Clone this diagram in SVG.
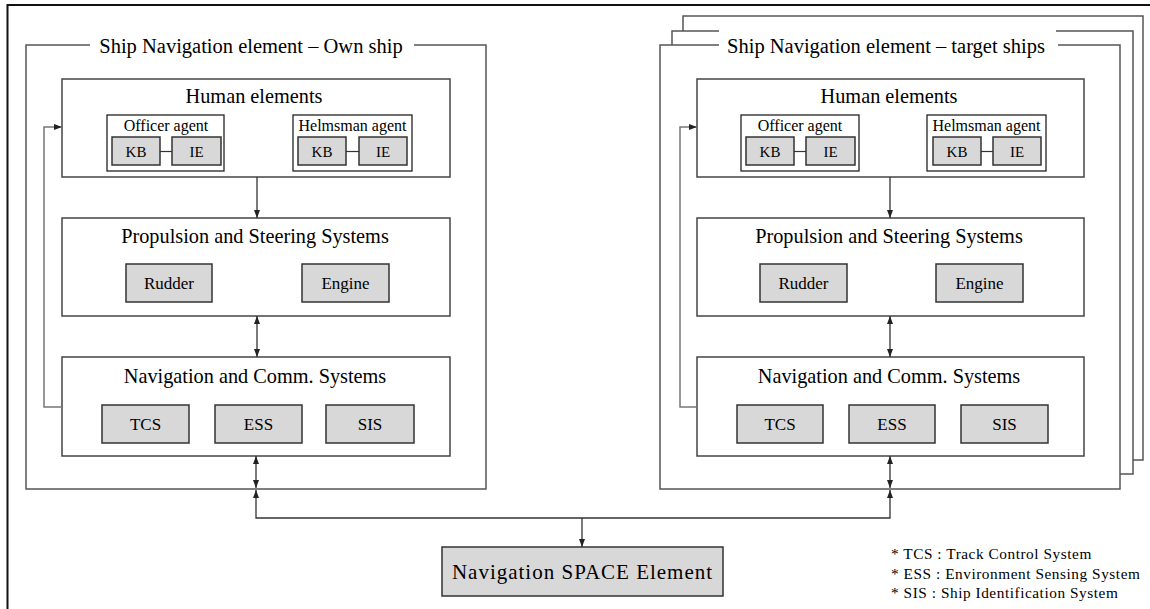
<svg xmlns="http://www.w3.org/2000/svg" width="1150" height="609" viewBox="0 0 1150 609">
  <style>
    text { font-family: "Liberation Serif", "Times New Roman", serif; fill: #000; }
    .frame { fill: none; stroke: #555; stroke-width: 1.5; }
    .panel { fill: #fff; stroke: #444; stroke-width: 1.5; }
    .agent { fill: #fff; stroke: #222; stroke-width: 1.3; }
    .unit { fill: #d8d8d8; stroke: #333; stroke-width: 1.5; }
    .title { font-size: 20.5px; text-anchor: middle; }
    .head { font-size: 20.3px; text-anchor: middle; }
    .sub { font-size: 16px; text-anchor: middle; }
    .small { font-size: 15px; text-anchor: middle; }
    .label { font-size: 17px; text-anchor: middle; }
    .link { fill: none; stroke: #333; stroke-width: 1.3; }
    .loop { fill: none; stroke: #777; stroke-width: 1.5; }
    .legend { font-size: 15.3px; letter-spacing: 0.55px; }
  </style>
  <defs>
    <marker id="ah" viewBox="0 0 8 6" refX="8" refY="3" markerWidth="8" markerHeight="6" markerUnits="userSpaceOnUse" orient="auto-start-reverse">
      <path d="M0,0 L8,3 L0,6 Z" fill="#222"/>
    </marker>
  </defs>

  <rect width="1150" height="609" fill="#fff"/>
  <!-- page border (top and left edges) -->
  <path d="M7.5,609 V5 H1150" fill="none" stroke="#111" stroke-width="2"/>

  <!-- own ship frame -->
  <g id="own-ship">
    <path class="frame" d="M90,45 H26 V489 H486 V45 H414"/>
    <text class="title" x="251" y="53">Ship Navigation element – Own ship</text>

    <g id="own-human">
      <rect class="panel" x="62" y="79" width="388" height="98"/>
      <text class="head" x="254" y="103">Human elements</text>
      <g id="own-officer">
        <rect class="agent" x="107" y="115" width="117" height="56"/>
        <text class="sub" x="166" y="131">Officer agent</text>
        <rect class="unit" x="112" y="137" width="48" height="28"/>
        <rect class="unit" x="172" y="137" width="49" height="28"/>
        <line x1="160" y1="151.5" x2="172" y2="151.5" stroke="#333" stroke-width="1.2"/>
        <text class="small" x="136" y="157">KB</text>
        <text class="small" x="196.5" y="157">IE</text>
      </g>
      <g id="own-helmsman">
        <rect class="agent" x="293" y="115" width="119" height="56"/>
        <text class="sub" x="352.5" y="131">Helmsman agent</text>
        <rect class="unit" x="298" y="137" width="48" height="28"/>
        <rect class="unit" x="359" y="137" width="48" height="28"/>
        <line x1="346" y1="151.5" x2="359" y2="151.5" stroke="#333" stroke-width="1.2"/>
        <text class="small" x="322" y="157">KB</text>
        <text class="small" x="383" y="157">IE</text>
      </g>
    </g>

    <g id="own-propulsion">
      <rect class="panel" x="62" y="218" width="388" height="98"/>
      <text class="head" x="255" y="243">Propulsion and Steering Systems</text>
      <rect class="unit" x="126" y="264" width="86" height="38"/>
      <text class="label" x="169" y="289">Rudder</text>
      <rect class="unit" x="302" y="264" width="87" height="38"/>
      <text class="label" x="345.5" y="289">Engine</text>
    </g>

    <g id="own-navcomm">
      <rect class="panel" x="62" y="357" width="388" height="99"/>
      <text class="head" x="255" y="383">Navigation and Comm. Systems</text>
      <rect class="unit" x="102" y="405" width="87" height="38"/>
      <text class="label" x="145.5" y="430">TCS</text>
      <rect class="unit" x="215" y="405" width="87" height="38"/>
      <text class="label" x="258.5" y="430">ESS</text>
      <rect class="unit" x="326" y="405" width="88" height="38"/>
      <text class="label" x="370" y="430">SIS</text>
    </g>
  </g>

  <!-- target ships frame (stacked copies) -->
  <g id="target-ships">
    <path class="frame" d="M683,31 V16 H1143 V460 H1133"/>
    <path class="frame" d="M672,45 V31 H719 M1056,31 H1133 V474 H1120"/>
    <path class="frame" d="M719,45 H660 V489 H1120 V45 H1058"/>
    <text class="title" x="886" y="53">Ship Navigation element – target ships</text>

    <g id="target-human">
      <rect class="panel" x="697" y="79" width="387" height="98"/>
      <text class="head" x="889" y="103">Human elements</text>
      <g id="target-officer">
        <rect class="agent" x="741" y="115" width="118" height="56"/>
        <text class="sub" x="800" y="131">Officer agent</text>
        <rect class="unit" x="746" y="137" width="48" height="28"/>
        <rect class="unit" x="806" y="137" width="49" height="28"/>
        <line x1="794" y1="151.5" x2="806" y2="151.5" stroke="#333" stroke-width="1.2"/>
        <text class="small" x="770" y="157">KB</text>
        <text class="small" x="830.5" y="157">IE</text>
      </g>
      <g id="target-helmsman">
        <rect class="agent" x="927" y="115" width="119" height="56"/>
        <text class="sub" x="986.5" y="131">Helmsman agent</text>
        <rect class="unit" x="933" y="137" width="48" height="28"/>
        <rect class="unit" x="993" y="137" width="48" height="28"/>
        <line x1="981" y1="151.5" x2="993" y2="151.5" stroke="#333" stroke-width="1.2"/>
        <text class="small" x="957" y="157">KB</text>
        <text class="small" x="1017" y="157">IE</text>
      </g>
    </g>

    <g id="target-propulsion">
      <rect class="panel" x="697" y="218" width="387" height="98"/>
      <text class="head" x="889" y="243">Propulsion and Steering Systems</text>
      <rect class="unit" x="760" y="264" width="87" height="38"/>
      <text class="label" x="803.5" y="289">Rudder</text>
      <rect class="unit" x="936" y="264" width="87" height="38"/>
      <text class="label" x="979.5" y="289">Engine</text>
    </g>

    <g id="target-navcomm">
      <rect class="panel" x="697" y="357" width="387" height="99"/>
      <text class="head" x="889" y="383">Navigation and Comm. Systems</text>
      <rect class="unit" x="737" y="405" width="86" height="38"/>
      <text class="label" x="780" y="430">TCS</text>
      <rect class="unit" x="849" y="405" width="86" height="38"/>
      <text class="label" x="892" y="430">ESS</text>
      <rect class="unit" x="961" y="405" width="87" height="38"/>
      <text class="label" x="1004.5" y="430">SIS</text>
    </g>
  </g>

  <g id="space-element">
    <rect class="unit" x="442" y="547" width="281" height="49"/>
    <text x="582.5" y="579" font-size="21" text-anchor="middle" letter-spacing="1">Navigation SPACE Element</text>
  </g>

  <!-- connectors -->
  <g id="connectors">
    <line class="link" x1="257" y1="177" x2="257" y2="218" marker-end="url(#ah)"/>
    <line class="link" x1="257" y1="316" x2="257" y2="357" marker-start="url(#ah)" marker-end="url(#ah)"/>
    <line class="link" x1="256" y1="456" x2="256" y2="488" marker-start="url(#ah)" marker-end="url(#ah)"/>
    <line class="link" x1="890" y1="177" x2="890" y2="218" marker-end="url(#ah)"/>
    <line class="link" x1="890" y1="316" x2="890" y2="357" marker-start="url(#ah)" marker-end="url(#ah)"/>
    <line class="link" x1="890" y1="456" x2="890" y2="488" marker-start="url(#ah)" marker-end="url(#ah)"/>
    <path class="link" d="M582,518 H256 V490" marker-end="url(#ah)"/>
    <path class="link" d="M582,518 H890 V490" marker-end="url(#ah)"/>
    <line class="link" x1="582" y1="518" x2="582" y2="547" marker-end="url(#ah)"/>
    <path class="loop" d="M62,407 H44 V127 H62" marker-end="url(#ah)"/>
    <path class="loop" d="M697,407 H680 V127 H697" marker-end="url(#ah)"/>
  </g>

  <g id="legend">
    <text class="legend" x="891" y="559">* TCS : Track Control System</text>
    <text class="legend" x="891" y="579">* ESS : Environment Sensing System</text>
    <text class="legend" x="891" y="598">* SIS : Ship Identification System</text>
  </g>
</svg>
